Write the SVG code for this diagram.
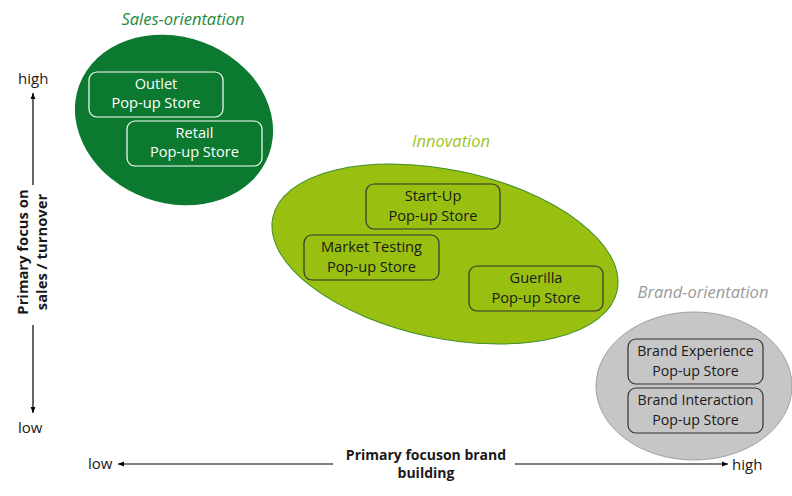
<svg xmlns="http://www.w3.org/2000/svg" width="792" height="496" viewBox="0 0 792 496">
<style>
  text { font-family: "Open Sans", "Noto Sans", "Liberation Sans", sans-serif; }
  .box { font-size: 14.6px; text-anchor: middle; }
  .sbox { font-size: 14.2px; text-anchor: middle; }
  .white { fill: #ffffff; }
  .dark { fill: #1a1a1a; }
  .title { font-size: 16.5px; font-style: italic; text-anchor: middle; }
  .axis { font-size: 15px; fill: #1a1a1a; }
  .axisB { font-weight: bold; fill: #1a1a1a; text-anchor: middle; }
  .wbox { fill: none; stroke: #ffffff; stroke-width: 1.2; }
  .kbox { fill: none; stroke: #333333; stroke-width: 1.2; }
  .line { stroke: #000; stroke-width: 1.2; fill: none; }
</style>
<defs>
  <marker id="arr" viewBox="0 0 10 10" refX="10" refY="5" markerWidth="6" markerHeight="6" orient="auto" markerUnits="userSpaceOnUse">
    <path d="M0,1 L10,5 L0,9 Z" fill="#000"/>
  </marker>
</defs>

<g id="sales-orientation">
  <ellipse cx="174" cy="120" rx="101" ry="83" transform="rotate(20 174 120)" fill="#0b7a30"/>
  <text class="title" x="183" y="25" fill="#1a8a3a">Sales-orientation</text>
</g>
<g id="outlet">
  <rect class="wbox" x="89" y="72" width="134" height="45" rx="8"/>
  <text class="box white" x="156" y="89">Outlet</text>
  <text class="box white" x="156" y="108">Pop-up Store</text>
</g>
<g id="retail">
  <rect class="wbox" x="127" y="121" width="135" height="45" rx="8"/>
  <text class="box white" x="194.5" y="138">Retail</text>
  <text class="box white" x="194.5" y="157">Pop-up Store</text>
</g>

<g id="innovation">
  <ellipse cx="445" cy="254" rx="176" ry="84" transform="rotate(12 445 254)" fill="#99bf10" stroke="#3f8f2a" stroke-width="1"/>
  <text class="title" x="451" y="147" fill="#9dc41e">Innovation</text>
</g>
<g id="start-up">
  <rect class="kbox" x="366" y="184" width="134" height="45" rx="8"/>
  <text class="box dark" x="433" y="201">Start-Up</text>
  <text class="box dark" x="433" y="221">Pop-up Store</text>
</g>
<g id="market-testing">
  <rect class="kbox" x="304" y="235" width="135" height="45" rx="8"/>
  <text class="box dark" x="371.5" y="252">Market  Testing</text>
  <text class="box dark" x="371.5" y="272">Pop-up Store</text>
</g>
<g id="guerilla">
  <rect class="kbox" x="469" y="266" width="134" height="45" rx="8"/>
  <text class="box dark" x="536" y="283">Guerilla</text>
  <text class="box dark" x="536" y="303">Pop-up Store</text>
</g>

<g id="brand-orientation">
  <ellipse cx="694" cy="386" rx="98" ry="74" fill="#c6c6c6" stroke="#a0a0a0" stroke-width="1"/>
  <text class="title" x="703" y="298" fill="#9a9a9a">Brand-orientation</text>
</g>
<g id="brand-experience">
  <rect class="kbox" x="628" y="339" width="135" height="45" rx="8"/>
  <text class="sbox dark" x="695.5" y="355.5">Brand Experience</text>
  <text class="sbox dark" x="695.5" y="375.5">Pop-up Store</text>
</g>
<g id="brand-interaction">
  <rect class="kbox" x="628" y="388" width="135" height="45" rx="8"/>
  <text class="sbox dark" x="695.5" y="404.5">Brand Interaction</text>
  <text class="sbox dark" x="695.5" y="424.5">Pop-up Store</text>
</g>

<g id="connectors">
  <line class="line" x1="33" y1="185" x2="33" y2="93" marker-end="url(#arr)"/>
  <line class="line" x1="33" y1="325" x2="33" y2="413" marker-end="url(#arr)"/>
  <line class="line" x1="333" y1="464" x2="118" y2="464" marker-end="url(#arr)"/>
  <line class="line" x1="515" y1="464" x2="728" y2="464" marker-end="url(#arr)"/>
</g>

<g id="axis-labels">
  <text class="axis" x="18" y="84">high</text>
  <text class="axis" x="18" y="433">low</text>
  <text class="axis" x="88" y="469">low</text>
  <text class="axis" x="732" y="470">high</text>
  <text class="axisB" font-size="14.8" transform="translate(28 252) rotate(-90)">Primary focus on</text>
  <text class="axisB" font-size="14.8" transform="translate(47 252) rotate(-90)">sales / turnover</text>
  <text class="axisB" font-size="14" x="426" y="460">Primary  focuson brand</text>
  <text class="axisB" font-size="14" x="426" y="478">building</text>
</g>
</svg>
